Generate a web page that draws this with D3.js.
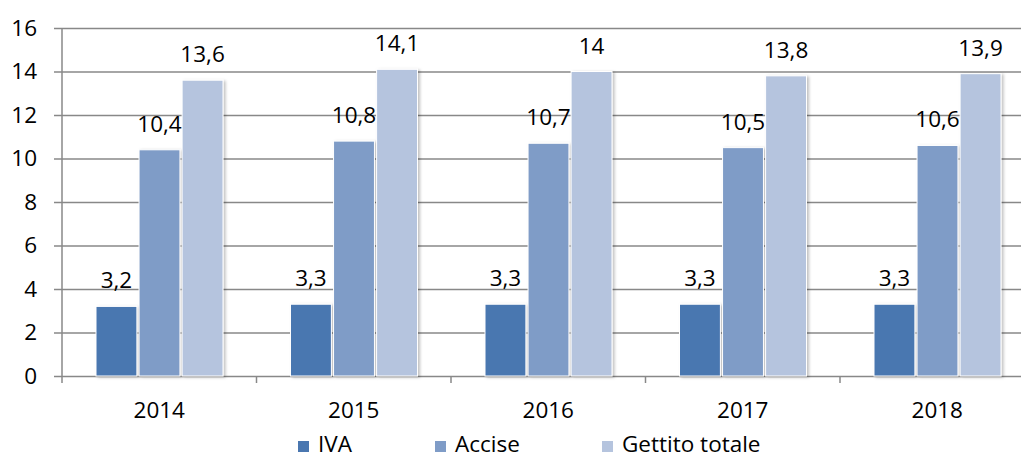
<!DOCTYPE html>
<html>
<head>
<meta charset="utf-8">
<script src="https://cdn.jsdelivr.net/npm/d3@7"></script>
<style>
  body { margin: 0; background: #fff; }
  text { font-family: "Open Sans", Lato, sans-serif; fill: #000; }
</style>
</head>
<body>
<div id="chart"></div>
<script>
// data
var years = ["2014", "2015", "2016", "2017", "2018"];
var series = ["IVA", "Accise", "Gettito totale"];
var iva = [3.2, 3.3, 3.3, 3.3, 3.3];
var accise = [10.4, 10.8, 10.7, 10.5, 10.6];
var gettito = [13.6, 14.1, 14, 13.8, 13.9];
var yTicks = [0, 2, 4, 6, 8, 10, 12, 14, 16];
var colors = ["#4a77b0", "#7f9cc7", "#b5c4de"];

var width = 1021, height = 456;
var plotLeft = 62, bandW = 194.5, plotTop = 28, plotBottom = 376;
var fs = "22.5px";

var svg = d3.select("#chart")
  .append("svg")
  .attr("width", width)
  .attr("height", height);

// soft shadow like the original bars
var defs = svg.append("defs");
var f = defs.append("filter").attr("id", "shadow")
  .attr("x", "-20%").attr("y", "-10%").attr("width", "150%").attr("height", "130%");
f.append("feDropShadow").attr("dx", 2).attr("dy", 1)
  .attr("stdDeviation", 1.5).attr("flood-color", "#000").attr("flood-opacity", 0.25);

var x0 = d3.scaleBand()
  .domain(years)
  .range([plotLeft, plotLeft + years.length * bandW])
  .padding(0);

var x1 = d3.scaleBand()
  .domain(series)
  .range([34, 161])
  .paddingInner(0.05);

var y = d3.scaleLinear()
  .domain([0, 16])
  .range([plotBottom, plotTop]);

// gridlines + y axis
var yAxis = d3.axisLeft(y)
  .tickValues(yTicks)
  .tickSize(-(width - plotLeft))
  .tickPadding(25)
  .tickFormat(d3.format("d"));

var gy = svg.append("g")
  .attr("transform", "translate(" + plotLeft + ",0)")
  .call(yAxis);
gy.select(".domain").remove();
gy.selectAll(".tick line")
  .attr("x1", -8)
  .attr("stroke", "#888")
  .attr("stroke-width", 1.5);
gy.selectAll(".tick text")
  .style("font-size", fs);

// vertical axis line
svg.append("line")
  .attr("x1", plotLeft).attr("x2", plotLeft)
  .attr("y1", plotTop).attr("y2", plotBottom + 7)
  .attr("stroke", "#888").attr("stroke-width", 1.5);

// x axis
var xAxis = d3.axisBottom(x0)
  .tickSize(0);
var gx = svg.append("g")
  .attr("transform", "translate(0," + plotBottom + ")")
  .call(xAxis);
gx.select(".domain").remove();
gx.selectAll(".tick text")
  .attr("y", 42)
  .attr("dy", null)
  .style("font-size", fs);

// category separator ticks
svg.selectAll("line.sep")
  .data(years.slice(1))
  .enter()
  .append("line")
  .attr("class", "sep")
  .attr("x1", function(d) { return x0(d); })
  .attr("x2", function(d) { return x0(d); })
  .attr("y1", plotBottom)
  .attr("y2", plotBottom + 7)
  .attr("stroke", "#888").attr("stroke-width", 1.5);

// bars
var rows = [];
years.forEach(function(yr, i) {
  [iva, accise, gettito].forEach(function(arr, j) {
    rows.push({ year: yr, s: series[j], v: arr[i], c: colors[j] });
  });
});

svg.append("g")
  .selectAll("rect")
  .data(rows)
  .enter()
  .append("rect")
  .attr("x", function(d) { return x0(d.year) + x1(d.s); })
  .attr("y", function(d) { return y(d.v); })
  .attr("width", x1.bandwidth())
  .attr("height", function(d) { return plotBottom - y(d.v); })
  .attr("fill", function(d) { return d.c; })
  .attr("stroke", "#fff")
  .attr("stroke-width", 1)
  .attr("filter", "url(#shadow)");

// value labels
svg.append("g")
  .selectAll("text")
  .data(rows)
  .enter()
  .append("text")
  .attr("x", function(d) { return x0(d.year) + x1(d.s) + x1.bandwidth() / 2; })
  .attr("y", function(d) { return y(d.v) - 18; })
  .attr("text-anchor", "middle")
  .style("font-size", fs)
  .text(function(d) { return String(d.v).replace(".", ","); });

// legend
var legX = [298, 435, 602];
var leg = svg.append("g")
  .selectAll("g")
  .data(series)
  .enter()
  .append("g")
  .attr("transform", function(d, i) { return "translate(" + legX[i] + ",441)"; });
leg.append("rect")
  .attr("width", 11).attr("height", 11)
  .attr("fill", function(d, i) { return colors[i]; });
leg.append("text")
  .attr("x", 20).attr("y", 11)
  .style("font-size", fs)
  .text(function(d) { return d; });
</script>
</body>
</html>
